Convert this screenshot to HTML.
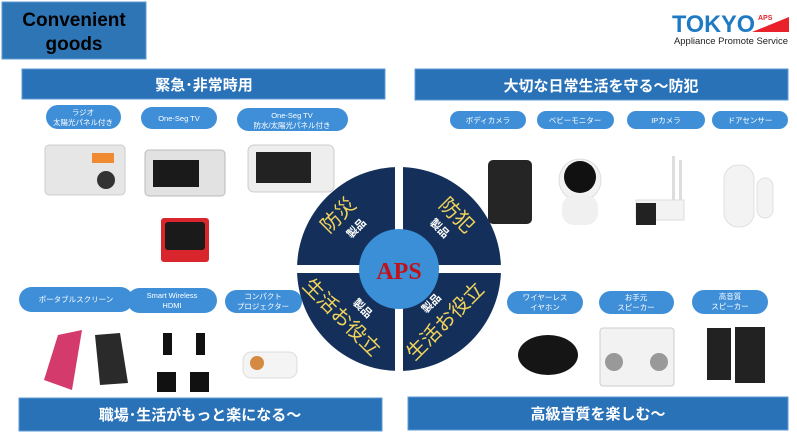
<!DOCTYPE html>
<html><head><meta charset="utf-8"><style>
body{margin:0;background:#fff;}
svg{display:block;font-family:"Liberation Sans","Noto Sans CJK JP",sans-serif;}
</style></head><body>
<svg width="797" height="445" viewBox="0 0 797 445" xmlns="http://www.w3.org/2000/svg">
<rect width="797" height="445" fill="#fff"/>
<!-- title -->
<rect x="2" y="2" width="144" height="57" fill="#2e75b6" stroke="#5b9bd5" stroke-width="1"/>
<text x="74" y="26" font-size="19" font-weight="bold" text-anchor="middle" fill="#000">Convenient</text>
<text x="74" y="50" font-size="19" font-weight="bold" text-anchor="middle" fill="#000">goods</text>
<!-- logo -->
<polygon points="752,32 789,17 789,32" fill="#e8212a"/>
<text x="672" y="32" font-size="24" font-weight="bold" fill="#1f7ac4" textLength="83" lengthAdjust="spacingAndGlyphs">TOKYO</text>
<text x="758" y="20" font-size="7" font-weight="bold" fill="#e8212a">APS</text>
<text x="674" y="44" font-size="9" fill="#222" textLength="114" lengthAdjust="spacingAndGlyphs">Appliance Promote Service</text>
<!-- banners -->
<g fill="#2a72b8" stroke="#5b9bd5" stroke-width="1">
<rect x="22" y="69" width="363" height="30"/>
<rect x="415" y="69" width="373" height="31"/>
<rect x="19" y="398" width="363" height="33"/>
<rect x="408" y="397" width="380" height="33"/>
</g>
<g fill="#fff" font-weight="bold" text-anchor="middle" font-size="15">
<text x="204" y="90">緊急･非常時用</text>
<text x="601" y="91">大切な日常生活を守る～防犯</text>
<text x="200" y="420">職場･生活がもっと楽になる～</text>
<text x="598" y="419">高級音質を楽しむ～</text>
</g>
<!-- pills -->
<g fill="#3f8fd8">
<rect x="46" y="105" width="75" height="24" rx="12"/>
<rect x="141" y="107" width="76" height="22" rx="11"/>
<rect x="237" y="108" width="111" height="23" rx="11.5"/>
<rect x="450" y="111" width="76" height="18" rx="9"/>
<rect x="537" y="111" width="77" height="18" rx="9"/>
<rect x="627" y="111" width="78" height="18" rx="9"/>
<rect x="712" y="111" width="76" height="18" rx="9"/>
<rect x="19" y="287" width="114" height="25" rx="12.5"/>
<rect x="127" y="288" width="90" height="25" rx="12.5"/>
<rect x="225" y="290" width="77" height="23" rx="11.5"/>
<rect x="507" y="291" width="76" height="23" rx="11.5"/>
<rect x="599" y="291" width="75" height="23" rx="11.5"/>
<rect x="692" y="290" width="76" height="24" rx="12"/>
</g>
<g fill="#fff" font-size="7.5" text-anchor="middle">
<text x="83" y="115">ラジオ</text><text x="83" y="125">太陽光パネル付き</text>
<text x="179" y="121">One-Seg TV</text>
<text x="292" y="118">One-Seg TV</text><text x="292" y="128">防水/太陽光パネル付き</text>
<text x="488" y="123">ボディカメラ</text>
<text x="575" y="123">ベビーモニター</text>
<text x="666" y="123">IPカメラ</text>
<text x="750" y="123">ドアセンサー</text>
<text x="76" y="302">ポータブルスクリーン</text>
<text x="172" y="298">Smart Wireless</text><text x="172" y="308">HDMI</text>
<text x="263" y="299">コンパクト</text><text x="263" y="309">プロジェクター</text>
<text x="545" y="300">ワイヤーレス</text><text x="545" y="310">イヤホン</text>
<text x="636" y="300">お手元</text><text x="636" y="310">スピーカー</text>
<text x="730" y="299">高音質</text><text x="730" y="309">スピーカー</text>
</g>
<!-- products left top -->
<rect x="45" y="145" width="80" height="50" rx="4" fill="#e6e6e6" stroke="#ccc"/>
<rect x="92" y="153" width="22" height="10" fill="#f08a30"/>
<circle cx="106" cy="180" r="9" fill="#333"/>
<rect x="145" y="150" width="80" height="46" rx="4" fill="#e2e2e2" stroke="#bbb"/>
<rect x="153" y="160" width="46" height="27" fill="#1a1a1a"/>
<rect x="248" y="145" width="86" height="47" rx="6" fill="#eeeeee" stroke="#ccc"/>
<rect x="256" y="152" width="55" height="31" fill="#222"/>
<rect x="161" y="218" width="48" height="44" rx="3" fill="#d9262c"/>
<rect x="165" y="222" width="40" height="28" rx="3" fill="#1a1a1a"/>
<!-- right top -->
<rect x="488" y="160" width="44" height="64" rx="5" fill="#252525"/>
<circle cx="580" cy="180" r="21" fill="#f2f2f2" stroke="#ddd"/>
<circle cx="580" cy="177" r="16" fill="#111"/>
<rect x="562" y="195" width="36" height="30" rx="12" fill="#f0f0f0"/>
<rect x="672" y="156" width="3" height="50" fill="#ddd"/><rect x="679" y="160" width="3" height="45" fill="#ddd"/>
<rect x="636" y="200" width="48" height="20" fill="#f3f3f3" stroke="#ddd"/>
<rect x="636" y="203" width="20" height="22" fill="#222"/>
<rect x="724" y="165" width="30" height="62" rx="14" fill="#f3f3f3" stroke="#e0e0e0"/>
<rect x="757" y="178" width="16" height="40" rx="8" fill="#f3f3f3" stroke="#e0e0e0"/>
<!-- bottom left products -->
<polygon points="58,335 82,330 72,390 44,380" fill="#d43a6c"/>
<polygon points="95,335 120,333 128,383 100,385" fill="#2a2a2a"/>
<rect x="163" y="333" width="9" height="22" fill="#111"/><rect x="157" y="372" width="19" height="20" fill="#111"/>
<rect x="196" y="333" width="9" height="22" fill="#111"/><rect x="190" y="372" width="19" height="20" fill="#111"/>
<rect x="243" y="352" width="54" height="26" rx="8" fill="#f4f4f4" stroke="#ddd"/>
<circle cx="257" cy="363" r="7" fill="#d48a40"/>
<!-- bottom right products -->
<ellipse cx="548" cy="355" rx="30" ry="20" fill="#151515"/>
<rect x="600" y="328" width="74" height="58" rx="3" fill="#f2f2f2" stroke="#ccc"/>
<circle cx="614" cy="362" r="9" fill="#999"/><circle cx="659" cy="362" r="9" fill="#999"/>
<rect x="707" y="328" width="24" height="52" fill="#222"/>
<rect x="735" y="327" width="30" height="56" fill="#222"/>
<!-- central circle -->
<circle cx="399" cy="269" r="102" fill="#14305a"/>
<rect x="395" y="160" width="8" height="220" fill="#fff"/>
<rect x="290" y="265" width="220" height="8" fill="#fff"/>
<circle cx="399" cy="269" r="40" fill="#3a8fd6"/>
<text x="399" y="279" font-family="Liberation Serif,serif" font-size="24" font-weight="bold" fill="#c0121a" text-anchor="middle">APS</text>
<g font-size="20" fill="#f2d45a" text-anchor="middle">
<text transform="translate(343,220) rotate(-45)">防災</text>
<text transform="translate(452,220) rotate(45)">防犯</text>
<text transform="translate(337,322) rotate(45)">生活お役立</text>
<text transform="translate(450,326) rotate(-45)">生活お役立</text>
</g>
<g font-size="11" font-weight="bold" fill="#fff" text-anchor="middle">
<text transform="translate(359,231) rotate(-45)">製品</text>
<text transform="translate(437,231) rotate(45)">製品</text>
<text transform="translate(360,311) rotate(45)">製品</text>
<text transform="translate(434,306) rotate(-45)">製品</text>
</g>
</svg>
</body></html>
